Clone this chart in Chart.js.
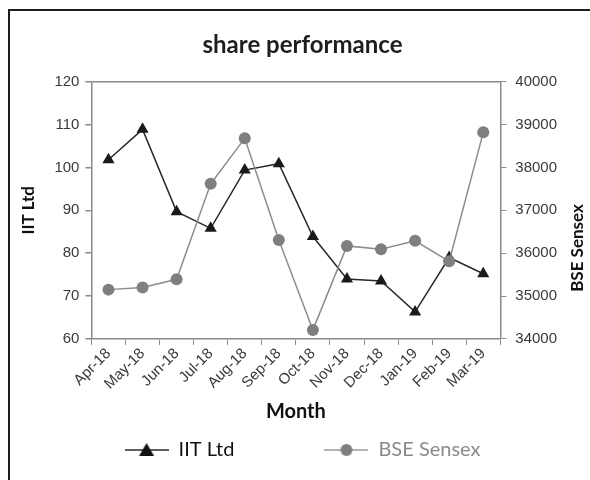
<!DOCTYPE html>
<html>
<head>
<meta charset="utf-8">
<script src="https://cdn.jsdelivr.net/npm/chart.js@4/dist/chart.umd.min.js"></script>
<style>
  html, body { margin: 0; padding: 0; background: #fff; }
  #wrap { position: relative; width: 590px; height: 480px; }
  #frame {
    position: absolute; left: 8px; top: 9px; right: 0; bottom: 0;
    border-left: 2px solid #1e1e1e; border-top: 2px solid #1e1e1e;
  }
  #chart { position: absolute; left: 0; top: 0; }
</style>
</head>
<body>
<div id="wrap">
  <div id="frame"></div>
  <canvas id="chart" width="590" height="480"></canvas>
</div>
<script>
// share performance: IIT Ltd price (left axis) vs BSE Sensex (right axis)
const months = ["Apr-18", "May-18", "Jun-18", "Jul-18", "Aug-18", "Sep-18",
  "Oct-18", "Nov-18", "Dec-18", "Jan-19", "Feb-19", "Mar-19"];
const iitLtd = [101.8, 108.9, 89.7, 85.8, 99.4, 100.9, 83.9, 74.0, 73.5, 66.3, 79.0, 75.2];
const bseSensex = [35150, 35200, 35390, 37620, 38680, 36310, 34210, 36170, 36090, 36290, 35810, 38820];
const iitRange = [60, 120, 10];        // min, max, step
const bseRange = [34000, 40000, 1000];
const titles = { chart: "share performance", x: "Month", y: "IIT Ltd", y2: "BSE Sensex" };

const AXIS = "#8a8a8a";
const TICK_TEXT = "#3a3a3a";

// small line + marker picture used as legend symbol
function legendIcon(lineColor, markColor, shape) {
  const c = document.createElement("canvas");
  c.width = 44; c.height = 16;
  const g = c.getContext("2d");
  g.strokeStyle = lineColor; g.lineWidth = 1.5;
  g.beginPath(); g.moveTo(0, 8); g.lineTo(44, 8); g.stroke();
  g.fillStyle = markColor;
  g.beginPath();
  if (shape === "triangle") {
    g.moveTo(22, 1); g.lineTo(29.5, 14); g.lineTo(14.5, 14); g.closePath();
  } else {
    g.arc(22, 8, 6, 0, Math.PI * 2);
  }
  g.fill();
  return c;
}
const blankIcon = document.createElement("canvas");
blankIcon.width = 1; blankIcon.height = 1;

// right axis title reads bottom-to-top, which the scale title can't do
const rightTitle = {
  id: "rightTitle",
  afterDraw(chart) {
    const { ctx } = chart;
    ctx.save();
    ctx.translate(chart.width - 12, 248);
    ctx.rotate(-Math.PI / 2);
    ctx.font = "bold 17px Lato";
    ctx.fillStyle = "#111";
    ctx.textAlign = "center";
    ctx.textBaseline = "middle";
    ctx.fillText(titles.y2, 0, 0);
    ctx.restore();
  },
};

Chart.defaults.font.family = "'Liberation Sans', Arial, sans-serif";

new Chart(document.getElementById("chart"), {
  type: "line",
  data: {
    labels: months,
    datasets: [
      {
        label: "IIT Ltd",
        data: iitLtd,
        yAxisID: "y",
        borderColor: "#2a2a2a",
        borderWidth: 1.5,
        pointStyle: "triangle",
        pointRadius: 7,
        pointBackgroundColor: "#1a1a1a",
        pointBorderColor: "#1a1a1a",
        pointBorderWidth: 0,
        order: 1,
      },
      {
        label: "BSE Sensex",
        data: bseSensex,
        yAxisID: "y2",
        borderColor: "#8c8c8c",
        borderWidth: 1.5,
        pointStyle: "circle",
        pointRadius: 6,
        pointBackgroundColor: "#7f7f7f",
        pointBorderColor: "#7f7f7f",
        pointBorderWidth: 0,
        order: 0,
      },
    ],
  },
  options: {
    responsive: false,
    animation: false,
    layout: { padding: { left: 17, right: 2, top: 0, bottom: 10 } },
    scales: {
      x: {
        offset: true,
        grid: { offset: true, drawOnChartArea: false, tickLength: 6, tickColor: AXIS },
        border: { color: AXIS, width: 1.5 },
        ticks: { color: TICK_TEXT, font: { size: 15 }, minRotation: 45, maxRotation: 45, padding: 0 },
        title: {
          display: true, text: titles.x, color: "#111",
          font: { family: "Lato", size: 20, weight: "bold" },
          padding: { top: 7, bottom: -2 },
        },
      },
      y: {
        position: "left",
        min: iitRange[0], max: iitRange[1],
        grid: {
          // only the top line of the plot frame is drawn across
          color: (c) => (c.tick && c.tick.value === iitRange[1] ? AXIS : "rgba(0,0,0,0)"),
          lineWidth: 1.5,
          tickLength: 6, tickColor: AXIS,
        },
        border: { color: AXIS, width: 1.5 },
        ticks: { stepSize: iitRange[2], color: TICK_TEXT, font: { size: 15 }, padding: 6 },
        title: {
          display: true, text: titles.y, color: "#111",
          font: { family: "Lato", size: 17, weight: "bold" },
          padding: { top: 1, bottom: 10 },
        },
      },
      y2: {
        position: "right",
        min: bseRange[0], max: bseRange[1],
        grid: { drawOnChartArea: false, tickLength: 6, tickColor: AXIS },
        border: { color: AXIS, width: 1.5 },
        ticks: {
          stepSize: bseRange[2], color: TICK_TEXT, font: { size: 15 }, padding: 9,
          callback: (v) => String(v),
        },
        // leave room for the title drawn by rightTitle
        afterFit: (scale) => { scale.width += 22; },
      },
    },
    plugins: {
      title: {
        display: true, text: titles.chart, color: "#1e1e1e",
        font: { family: "Lato", size: 24, weight: "bold" },
        padding: { top: 31, bottom: 22 },
      },
      tooltip: { enabled: false },
      legend: {
        position: "bottom",
        labels: {
          usePointStyle: true,
          pointStyleWidth: 44,
          padding: 18,
          font: { family: "Lato", size: 20 },
          generateLabels: (chart) => {
            const ds = chart.data.datasets;
            return [
              { text: ds[0].label, fontColor: "#111", datasetIndex: 0, lineWidth: 0,
                pointStyle: legendIcon("#2a2a2a", "#111", "triangle") },
              // empty spacer so the two entries sit further apart
              { text: "", lineWidth: 0, pointStyle: blankIcon },
              { text: ds[1].label, fontColor: "#8a8a8a", datasetIndex: 1, lineWidth: 0,
                pointStyle: legendIcon("#9a9a9a", "#7f7f7f", "circle") },
            ];
          },
        },
      },
    },
  },
  plugins: [rightTitle],
});
</script>
</body>
</html>
